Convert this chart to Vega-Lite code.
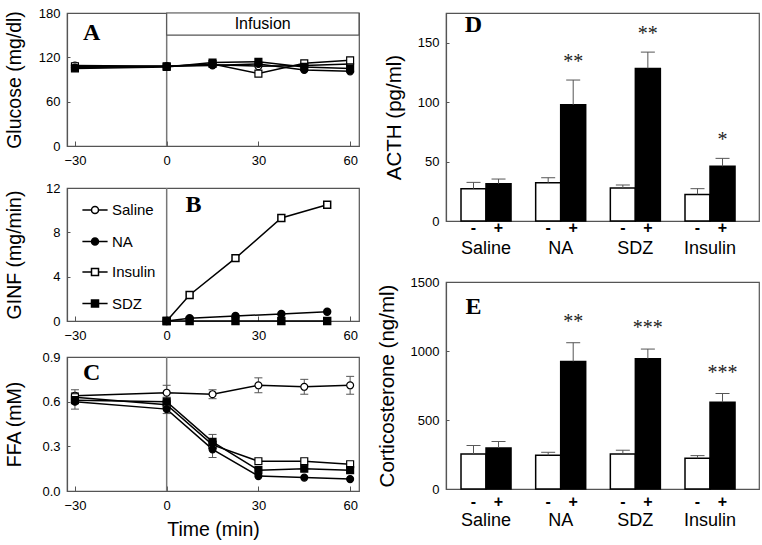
{
 "$schema": "https://vega.github.io/schema/vega-lite/v6.json",
 "background": "white",
 "padding": {"left": 3, "top": 6, "right": 2, "bottom": 2},
 "config": {
   "font": "Liberation Sans",
   "view": {"stroke": "#555", "strokeWidth": 1.2},
   "axis": {"labelFont": "Liberation Sans", "labelFontSize": 13, "labelColor": "black", "titleFont": "Liberation Sans", "titleFontSize": 19.5, "titleFontWeight": "normal", "titleColor": "black", "domainColor": "#555", "domainWidth": 1.2, "tickColor": "#555", "grid": false},
   "axisX": {"tickSize": -5, "labelPadding": 13},
   "axisY": {"tickSize": -3, "labelPadding": 10, "titlePadding": 10}
 },
 "datasets": {
   "glucose": [
     {"time": -30, "group": "Saline", "value": 109}, {"time": 0, "group": "Saline", "value": 108}, {"time": 15, "group": "Saline", "value": 110}, {"time": 30, "group": "Saline", "value": 108}, {"time": 45, "group": "Saline", "value": 109}, {"time": 60, "group": "Saline", "value": 111},
     {"time": -30, "group": "Insulin", "value": 108}, {"time": 0, "group": "Insulin", "value": 108}, {"time": 15, "group": "Insulin", "value": 111}, {"time": 30, "group": "Insulin", "value": 98}, {"time": 45, "group": "Insulin", "value": 112}, {"time": 60, "group": "Insulin", "value": 116},
     {"time": -30, "group": "NA", "value": 106}, {"time": 0, "group": "NA", "value": 108}, {"time": 15, "group": "NA", "value": 109}, {"time": 30, "group": "NA", "value": 111}, {"time": 45, "group": "NA", "value": 103}, {"time": 60, "group": "NA", "value": 101},
     {"time": -30, "group": "SDZ", "value": 105}, {"time": 0, "group": "SDZ", "value": 107}, {"time": 15, "group": "SDZ", "value": 113}, {"time": 30, "group": "SDZ", "value": 114}, {"time": 45, "group": "SDZ", "value": 107}, {"time": 60, "group": "SDZ", "value": 105}
   ],
   "ginf": [
     {"time": 0, "group": "Insulin", "value": 0}, {"time": 7.5, "group": "Insulin", "value": 2.35}, {"time": 22.5, "group": "Insulin", "value": 5.67}, {"time": 37.5, "group": "Insulin", "value": 9.29}, {"time": 52.5, "group": "Insulin", "value": 10.49},
     {"time": 0, "group": "NA", "value": 0}, {"time": 7.5, "group": "NA", "value": 0.24}, {"time": 22.5, "group": "NA", "value": 0.45}, {"time": 37.5, "group": "NA", "value": 0.63}, {"time": 52.5, "group": "NA", "value": 0.84},
     {"time": 0, "group": "SDZ", "value": 0}, {"time": 7.5, "group": "SDZ", "value": 0}, {"time": 22.5, "group": "SDZ", "value": 0}, {"time": 37.5, "group": "SDZ", "value": 0}, {"time": 52.5, "group": "SDZ", "value": 0}
   ],
   "ffa": [
     {"time": -30, "group": "Saline", "value": 0.64, "lo": 0.60, "hi": 0.68}, {"time": 0, "group": "Saline", "value": 0.66, "lo": 0.61, "hi": 0.71}, {"time": 15, "group": "Saline", "value": 0.65, "lo": 0.62, "hi": 0.68}, {"time": 30, "group": "Saline", "value": 0.71, "lo": 0.66, "hi": 0.76}, {"time": 45, "group": "Saline", "value": 0.70, "lo": 0.65, "hi": 0.75}, {"time": 60, "group": "Saline", "value": 0.71, "lo": 0.65, "hi": 0.77},
     {"time": -30, "group": "Insulin", "value": 0.63, "lo": 0.60, "hi": 0.66}, {"time": 0, "group": "Insulin", "value": 0.58, "lo": null, "hi": null}, {"time": 15, "group": "Insulin", "value": 0.31, "lo": null, "hi": null}, {"time": 30, "group": "Insulin", "value": 0.20, "lo": null, "hi": null}, {"time": 45, "group": "Insulin", "value": 0.20, "lo": null, "hi": null}, {"time": 60, "group": "Insulin", "value": 0.18, "lo": null, "hi": null},
     {"time": -30, "group": "NA", "value": 0.60, "lo": 0.55, "hi": 0.65}, {"time": 0, "group": "NA", "value": 0.55, "lo": 0.52, "hi": 0.58}, {"time": 15, "group": "NA", "value": 0.28, "lo": 0.225, "hi": 0.335}, {"time": 30, "group": "NA", "value": 0.10, "lo": null, "hi": null}, {"time": 45, "group": "NA", "value": 0.09, "lo": null, "hi": null}, {"time": 60, "group": "NA", "value": 0.08, "lo": null, "hi": null},
     {"time": -30, "group": "SDZ", "value": 0.61, "lo": null, "hi": null}, {"time": 0, "group": "SDZ", "value": 0.60, "lo": 0.57, "hi": 0.63}, {"time": 15, "group": "SDZ", "value": 0.33, "lo": 0.29, "hi": 0.38}, {"time": 30, "group": "SDZ", "value": 0.14, "lo": null, "hi": null}, {"time": 45, "group": "SDZ", "value": 0.15, "lo": null, "hi": null}, {"time": 60, "group": "SDZ", "value": 0.14, "lo": null, "hi": null}
   ],
   "acth": [
     {"group": "Saline", "sign": "-", "value": 27.2, "upper": 32.5, "star": ""}, {"group": "Saline", "sign": "+", "value": 31.4, "upper": 35.3, "star": ""},
     {"group": "NA", "sign": "-", "value": 32.2, "upper": 36.4, "star": ""}, {"group": "NA", "sign": "+", "value": 97.8, "upper": 118.6, "star": "**"},
     {"group": "SDZ", "sign": "-", "value": 27.8, "upper": 30.3, "star": ""}, {"group": "SDZ", "sign": "+", "value": 128.4, "upper": 142.1, "star": "**"},
     {"group": "Insulin", "sign": "-", "value": 22.4, "upper": 27.2, "star": ""}, {"group": "Insulin", "sign": "+", "value": 46, "upper": 52.7, "star": "*"}
   ],
   "cort": [
     {"group": "Saline", "sign": "-", "value": 254, "upper": 315, "star": ""}, {"group": "Saline", "sign": "+", "value": 298, "upper": 344, "star": ""},
     {"group": "NA", "sign": "-", "value": 244, "upper": 266, "star": ""}, {"group": "NA", "sign": "+", "value": 924, "upper": 1060, "star": "**"},
     {"group": "SDZ", "sign": "-", "value": 254, "upper": 281, "star": ""}, {"group": "SDZ", "sign": "+", "value": 944, "upper": 1014, "star": "***"},
     {"group": "Insulin", "sign": "-", "value": 223, "upper": 242, "star": ""}, {"group": "Insulin", "sign": "+", "value": 629, "upper": 692, "star": "***"}
   ]
 },
 "resolve": {"scale": {"shape": "independent", "fill": "independent"}, "legend": {"shape": "independent", "fill": "independent"}},
 "spacing": 15,
 "hconcat": [
  {
   "spacing": 7,
   "resolve": {"scale": {"shape": "independent", "fill": "independent"}, "legend": {"shape": "independent", "fill": "independent"}},
   "vconcat": [
    {
     "spacing": 13,
     "resolve": {"scale": {"shape": "independent", "fill": "independent"}, "legend": {"shape": "independent", "fill": "independent"}},
     "vconcat": [
      {
       "width": 292, "height": 133,
       "layer": [
        {"data": {"values": [{}]}, "mark": {"type": "rule", "color": "#777", "strokeWidth": 1.5}, "encoding": {"x": {"datum": 0, "type": "quantitative"}}},
        {"data": {"values": [{}]}, "mark": {"type": "rect", "fill": "white", "stroke": "#555", "strokeWidth": 1.2}, "encoding": {"x": {"datum": 0, "type": "quantitative"}, "x2": {"datum": 62.9}, "y": {"datum": 150, "type": "quantitative"}, "y2": {"datum": 180}}},
        {"data": {"values": [{}]}, "mark": {"type": "text", "font": "Liberation Sans", "fontSize": 16, "baseline": "middle", "color": "black"}, "encoding": {"x": {"datum": 31.4, "type": "quantitative"}, "y": {"datum": 165, "type": "quantitative"}, "text": {"value": "Infusion"}}},
        {"data": {"values": [{}]}, "mark": {"type": "text", "font": "Liberation Serif", "fontWeight": "bold", "fontSize": 24, "baseline": "middle", "color": "black"}, "encoding": {"x": {"datum": -24.5, "type": "quantitative"}, "y": {"datum": 153, "type": "quantitative"}, "text": {"value": "A"}}},
        {"data": {"name": "glucose"}, "mark": {"type": "line", "color": "black", "strokeWidth": 1.5},
         "encoding": {
          "x": {"field": "time", "type": "quantitative", "scale": {"domain": [-32.6, 62.9], "nice": false, "zero": false}, "axis": {"values": [-30, 0, 30, 60], "title": null}},
          "y": {"field": "value", "type": "quantitative", "scale": {"domain": [0, 180], "nice": false}, "axis": {"values": [0, 60, 120, 180], "title": "Glucose (mg/dl)", "minExtent": 33}},
          "detail": {"field": "group"}}},
        {"data": {"name": "glucose"}, "mark": {"type": "point", "filled": true, "stroke": "black", "strokeWidth": 1.2, "size": 48, "opacity": 1},
         "encoding": {
          "x": {"field": "time", "type": "quantitative"},
          "y": {"field": "value", "type": "quantitative"},
          "shape": {"field": "group", "type": "nominal", "scale": {"domain": ["Saline", "NA", "Insulin", "SDZ"], "range": ["circle", "circle", "square", "square"]}, "legend": null},
          "fill": {"field": "group", "type": "nominal", "scale": {"domain": ["Saline", "NA", "Insulin", "SDZ"], "range": ["white", "black", "white", "black"]}, "legend": null}}}
       ]
      },
      {
       "width": 292, "height": 133,
       "resolve": {"scale": {"fill": "independent"}, "legend": {"fill": "independent"}},
       "layer": [
        {"data": {"values": [{}]}, "mark": {"type": "rule", "color": "#777", "strokeWidth": 1.5}, "encoding": {"x": {"datum": 0, "type": "quantitative"}}},
        {"data": {"values": [{}]}, "mark": {"type": "text", "font": "Liberation Serif", "fontWeight": "bold", "fontSize": 24, "baseline": "middle", "color": "black"}, "encoding": {"x": {"datum": 8.8, "type": "quantitative"}, "y": {"datum": 10.5, "type": "quantitative"}, "text": {"value": "B"}}},
        {"data": {"name": "ginf"}, "mark": {"type": "line", "color": "black", "strokeWidth": 1.5},
         "encoding": {
          "x": {"field": "time", "type": "quantitative", "scale": {"domain": [-32.6, 62.9], "nice": false, "zero": false}, "axis": {"values": [-30, 0, 30, 60], "title": null}},
          "y": {"field": "value", "type": "quantitative", "scale": {"domain": [0, 12], "nice": false}, "axis": {"values": [0, 4, 8, 12], "title": "GINF (mg/min)", "minExtent": 33}},
          "detail": {"field": "group"}}},
        {"data": {"name": "ginf"}, "transform": [{"filter": "datum.group === 'NA'"}],
         "mark": {"type": "point", "shape": "circle", "filled": true, "stroke": "black", "strokeWidth": 1.5, "size": 48, "opacity": 1},
         "encoding": {
          "x": {"field": "time", "type": "quantitative"},
          "y": {"field": "value", "type": "quantitative"},
          "fill": {"field": "group", "type": "nominal", "scale": {"domain": ["Saline", "NA"], "range": ["white", "black"]},
            "legend": {"orient": "none", "legendX": 20, "legendY": 14, "title": null, "padding": 0, "labelFont": "Liberation Sans", "labelFontSize": 15, "labelColor": "black", "labelOffset": 9, "rowPadding": 15.5, "symbolSize": 196, "symbolStrokeWidth": 1.5, "symbolOpacity": 1,
              "symbolType": "M-1.8,0H-0.5M0.5,0H1.8M0.5,0A0.5,0.5,0,1,1,-0.5,0A0.5,0.5,0,1,1,0.5,0Z"}}}},
        {"data": {"name": "ginf"}, "transform": [{"filter": "datum.group !== 'NA'"}],
         "mark": {"type": "point", "shape": "square", "filled": true, "stroke": "black", "strokeWidth": 1.5, "size": 48, "opacity": 1},
         "encoding": {
          "x": {"field": "time", "type": "quantitative"},
          "y": {"field": "value", "type": "quantitative"},
          "fill": {"field": "group", "type": "nominal", "scale": {"domain": ["Insulin", "SDZ"], "range": ["white", "black"]},
            "legend": {"orient": "none", "legendX": 20, "legendY": 76, "title": null, "padding": 0, "labelFont": "Liberation Sans", "labelFontSize": 15, "labelColor": "black", "labelOffset": 9, "rowPadding": 15.5, "symbolSize": 196, "symbolStrokeWidth": 1.5, "symbolOpacity": 1,
              "symbolType": "M-1.8,0H-0.5M0.5,0H1.8M-0.5,-0.5H0.5V0.5H-0.5Z"}}}}
       ]
      }
     ]
    },
    {
     "width": 292, "height": 134,
     "layer": [
      {"data": {"values": [{}]}, "mark": {"type": "rule", "color": "#777", "strokeWidth": 1.5}, "encoding": {"x": {"datum": 0, "type": "quantitative"}}},
      {"data": {"values": [{}]}, "mark": {"type": "text", "font": "Liberation Serif", "fontWeight": "bold", "fontSize": 24, "baseline": "middle", "color": "black"}, "encoding": {"x": {"datum": -24.5, "type": "quantitative"}, "y": {"datum": 0.793, "type": "quantitative"}, "text": {"value": "C"}}},
      {"data": {"name": "ffa"}, "mark": {"type": "rule", "color": "#555", "strokeWidth": 1}, "encoding": {"x": {"field": "time", "type": "quantitative"}, "y": {"field": "lo", "type": "quantitative"}, "y2": {"field": "hi"}}},
      {"data": {"name": "ffa"}, "mark": {"type": "tick", "color": "#555", "orient": "horizontal", "size": 8, "thickness": 1, "opacity": 1}, "encoding": {"x": {"field": "time", "type": "quantitative"}, "y": {"field": "lo", "type": "quantitative"}}},
      {"data": {"name": "ffa"}, "mark": {"type": "tick", "color": "#555", "orient": "horizontal", "size": 8, "thickness": 1, "opacity": 1}, "encoding": {"x": {"field": "time", "type": "quantitative"}, "y": {"field": "hi", "type": "quantitative"}}},
      {"data": {"name": "ffa"}, "mark": {"type": "line", "color": "black", "strokeWidth": 1.5},
       "encoding": {
        "x": {"field": "time", "type": "quantitative", "scale": {"domain": [-32.6, 62.9], "nice": false, "zero": false}, "axis": {"values": [-30, 0, 30, 60], "title": "Time (min)", "titleFontSize": 19.5, "titlePadding": 8}},
        "y": {"field": "value", "type": "quantitative", "scale": {"domain": [0, 0.9], "nice": false}, "axis": {"values": [0, 0.3, 0.6, 0.9], "format": ".1f", "title": "FFA (mM)", "minExtent": 33}},
        "detail": {"field": "group"}}},
      {"data": {"name": "ffa"}, "mark": {"type": "point", "filled": true, "stroke": "black", "strokeWidth": 1.2, "size": 48, "opacity": 1},
       "encoding": {
        "x": {"field": "time", "type": "quantitative"},
        "y": {"field": "value", "type": "quantitative"},
        "shape": {"field": "group", "type": "nominal", "scale": {"domain": ["Saline", "NA", "Insulin", "SDZ"], "range": ["circle", "circle", "square", "square"]}, "legend": null},
        "fill": {"field": "group", "type": "nominal", "scale": {"domain": ["Saline", "NA", "Insulin", "SDZ"], "range": ["white", "black", "white", "black"]}, "legend": null}}}
     ]
    }
   ]
  },
  {
   "spacing": 17,
   "resolve": {"scale": {"shape": "independent", "fill": "independent"}, "legend": {"shape": "independent", "fill": "independent"}},
   "vconcat": [
    {
     "width": 313, "height": 208,
     "data": {"name": "acth"},
     "encoding": {
      "x": {"field": "group", "type": "nominal", "sort": ["Saline", "NA", "SDZ", "Insulin"], "scale": {"paddingInner": 0.33, "paddingOuter": 0.261, "align": 0.385}, "axis": {"title": null, "labelFontSize": 18, "labelPadding": 18, "ticks": false, "labelAngle": 0}},
      "xOffset": {"field": "sign", "type": "nominal", "sort": ["-", "+"], "scale": {"paddingInner": 0, "paddingOuter": 0}}
     },
     "layer": [
      {"mark": {"type": "bar", "stroke": "black", "strokeWidth": 1.5},
       "encoding": {
        "y": {"field": "value", "type": "quantitative", "scale": {"domain": [0, 175], "nice": false}, "axis": {"values": [0, 50, 100, 150], "title": "ACTH (pg/ml)", "titleFontSize": 20.5, "titlePadding": 13}},
        "fill": {"field": "sign", "type": "nominal", "scale": {"domain": ["-", "+"], "range": ["white", "black"]}, "legend": null}}},
      {"mark": {"type": "rule", "color": "#555", "strokeWidth": 1}, "encoding": {"y": {"field": "value", "type": "quantitative"}, "y2": {"field": "upper"}}},
      {"mark": {"type": "tick", "color": "#555", "orient": "horizontal", "size": 14, "thickness": 1, "opacity": 1}, "encoding": {"y": {"field": "upper", "type": "quantitative"}}},
      {"mark": {"type": "text", "font": "Liberation Serif", "fontSize": 20, "baseline": "alphabetic", "dy": -12, "color": "#222"}, "encoding": {"y": {"field": "upper", "type": "quantitative"}, "text": {"field": "star"}}},
      {"mark": {"type": "text", "font": "Liberation Sans", "fontSize": 16, "fontWeight": "bold", "baseline": "middle", "color": "black"}, "encoding": {"y": {"datum": -6, "type": "quantitative"}, "text": {"field": "sign"}}},
      {"transform": [{"filter": "datum.group === 'Saline' && datum.sign === '-'"}], "mark": {"type": "text", "font": "Liberation Serif", "fontWeight": "bold", "fontSize": 24, "baseline": "middle", "color": "black"}, "encoding": {"y": {"datum": 165, "type": "quantitative"}, "text": {"value": "D"}}}
     ]
    },
    {
     "width": 313, "height": 207,
     "data": {"name": "cort"},
     "encoding": {
      "x": {"field": "group", "type": "nominal", "sort": ["Saline", "NA", "SDZ", "Insulin"], "scale": {"paddingInner": 0.33, "paddingOuter": 0.261, "align": 0.385}, "axis": {"title": null, "labelFontSize": 18, "labelPadding": 22, "ticks": false, "labelAngle": 0}},
      "xOffset": {"field": "sign", "type": "nominal", "sort": ["-", "+"], "scale": {"paddingInner": 0, "paddingOuter": 0}}
     },
     "layer": [
      {"mark": {"type": "bar", "stroke": "black", "strokeWidth": 1.5},
       "encoding": {
        "y": {"field": "value", "type": "quantitative", "scale": {"domain": [0, 1500], "nice": false}, "axis": {"values": [0, 500, 1000, 1500], "format": "d", "title": "Corticosterone (ng/ml)", "titleFontSize": 20.5, "titlePadding": 13}},
        "fill": {"field": "sign", "type": "nominal", "scale": {"domain": ["-", "+"], "range": ["white", "black"]}, "legend": null}}},
      {"mark": {"type": "rule", "color": "#555", "strokeWidth": 1}, "encoding": {"y": {"field": "value", "type": "quantitative"}, "y2": {"field": "upper"}}},
      {"mark": {"type": "tick", "color": "#555", "orient": "horizontal", "size": 14, "thickness": 1, "opacity": 1}, "encoding": {"y": {"field": "upper", "type": "quantitative"}}},
      {"mark": {"type": "text", "font": "Liberation Serif", "fontSize": 20, "baseline": "alphabetic", "dy": -15, "color": "#222"}, "encoding": {"y": {"field": "upper", "type": "quantitative"}, "text": {"field": "star"}}},
      {"mark": {"type": "text", "font": "Liberation Sans", "fontSize": 16, "fontWeight": "bold", "baseline": "middle", "color": "black"}, "encoding": {"y": {"datum": -94, "type": "quantitative"}, "text": {"field": "sign"}}},
      {"transform": [{"filter": "datum.group === 'Saline' && datum.sign === '-'"}], "mark": {"type": "text", "font": "Liberation Serif", "fontWeight": "bold", "fontSize": 24, "baseline": "middle", "color": "black"}, "encoding": {"y": {"datum": 1319, "type": "quantitative"}, "text": {"value": "E"}}}
     ]
    }
   ]
  }
 ]
}
